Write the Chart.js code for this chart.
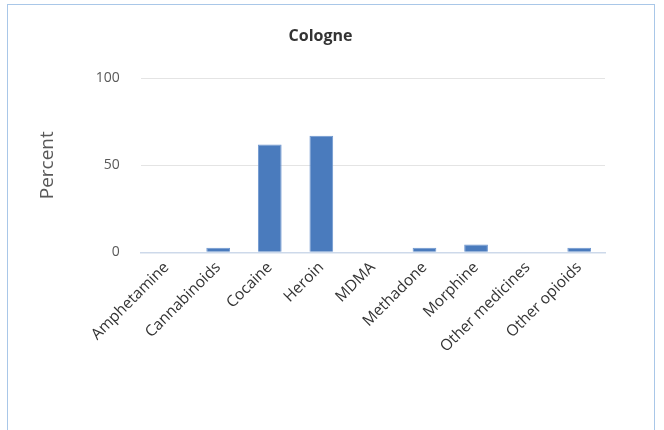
<!DOCTYPE html>
<html><head><meta charset="utf-8">
<script src="https://cdn.jsdelivr.net/npm/chart.js@4"></script>
<style>
html,body{margin:0;padding:0;background:#fff;overflow:hidden;}
#wrap{position:relative;width:664px;height:430px;}
#frame{position:absolute;left:7px;top:4px;width:648px;height:450px;border:1.5px solid #a9c7e8;box-sizing:border-box;}
canvas{position:absolute;left:0;top:0;}
</style></head>
<body><div id="wrap"><div id="frame"></div><canvas id="c" width="664" height="430"></canvas></div>
<script>
const categories = ["Amphetamine","Cannabinoids","Cocaine","Heroin","MDMA","Methadone","Morphine","Other medicines","Other opioids"];
const percentValues = [0, 2.6, 61.9, 67.0, 0, 2.6, 4.5, 0, 2.6];
const yTicks = [0, 50, 100];
const chartTitle = "Cologne";
const yTitle = "Percent";

const ff = "'Open Sans', 'Noto Sans', sans-serif";
new Chart(document.getElementById('c'), {
  type: 'bar',
  data: { labels: categories, datasets: [{ data: percentValues, backgroundColor: '#4a7bbd', borderColor: '#6f97cf', borderWidth: 1, barPercentage: 0.92, categoryPercentage: 0.5 }] },
  options: {
    responsive: false, animation: false,
    layout: { padding: { left: 36, right: 59, top: 27, bottom: 68 } },
    plugins: {
      legend: { display: false }, tooltip: { enabled: false },
      title: { display: true, text: chartTitle, color: '#333333', font: { family: ff, size: 16, weight: 'bold' }, padding: { top: 0, bottom: 32 } }
    },
    scales: {
      x: {
        grid: { display: false, drawTicks: false },
        border: { display: true, color: '#cdd9ea', width: 1.5 },
        ticks: { color: '#333333', font: { family: ff, size: 15.5 }, maxRotation: 45, minRotation: 45, padding: 6 }
      },
      y: {
        min: 0, max: 100,
        afterBuildTicks: (s) => { s.ticks = yTicks.map(v => ({ value: v })); },
        grid: { color: '#e4e4e4', drawTicks: false, lineWidth: 1 },
        border: { display: false },
        ticks: { color: '#595959', font: { family: ff, size: 14 }, padding: 21 },
        title: { display: true, text: yTitle, color: '#595959', font: { family: ff, size: 19 }, padding: { top: 0, bottom: 16 } }
      }
    }
  }
});
</script></body></html>
